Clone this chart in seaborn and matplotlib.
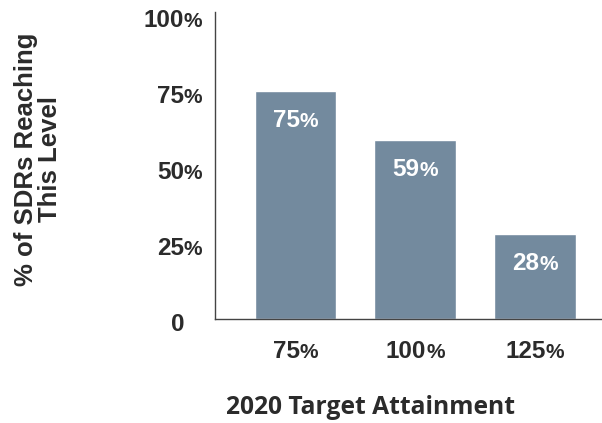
import matplotlib
matplotlib.use("Agg")
import matplotlib.pyplot as plt
from matplotlib.transforms import offset_copy
import seaborn as sns
import pandas as pd

# Data
attainment_levels = ["75%", "100%", "125%"]
share_reaching = [75, 59, 28]
y_ticks = [0, 25, 50, 75, 100]
y_tick_labels = ["0", "25%", "50%", "75%", "100%"]

df = pd.DataFrame({"level": attainment_levels, "share": share_reaching})

sns.set_theme(style="white")
plt.rcParams["font.family"] = ["Liberation Sans", "DejaVu Sans"]

bar_color = "#738A9E"
text_color = "#2b2b2b"
BIG, SMALL = 17.5, 15

fig = plt.figure(figsize=(6.02, 4.23), dpi=100)
ax = fig.add_axes([215 / 602, 104 / 423, 387 / 602, 307 / 423])

sns.barplot(data=df, x="level", y="share", color=bar_color, width=0.68,
            saturation=1, ax=ax)

ax.set_xlim(-0.67, 2.56)
ax.set_ylim(0, 101)
ax.set_yticks(y_ticks)
ax.set_yticklabels([])
ax.set_xticks(range(len(attainment_levels)))
ax.set_xticklabels([])
ax.tick_params(length=0)
ax.set_ylabel("")
ax.set_xlabel("")

for side in ["top", "right"]:
    ax.spines[side].set_visible(False)
for side in ["left", "bottom"]:
    ax.spines[side].set_color("#444444")
    ax.spines[side].set_linewidth(1.0)

renderer = fig.canvas.get_renderer()


def text_width(s, size):
    t = fig.text(0, 0, s, fontsize=size, fontweight="bold")
    w = t.get_window_extent(renderer).width
    t.remove()
    return w


def pct_label(x, y, label, trans, align, dx, dy, color):
    """Draw a number with a smaller trailing percent sign."""
    num = label.rstrip("%")
    has_pct = label.endswith("%")
    w1 = text_width(num, BIG)
    w2 = text_width("%", SMALL) if has_pct else 0.0
    if align == "center":
        start = -(w1 + w2) / 2
    else:  # digits right-aligned on the anchor
        start = -w1
    t1 = offset_copy(trans, fig=fig, x=start + dx, y=dy, units="dots")
    ax.text(x, y, num, transform=t1, ha="left", va="baseline",
            fontsize=BIG, fontweight="bold", color=color, clip_on=False)
    if has_pct:
        t2 = offset_copy(trans, fig=fig, x=start + w1 + dx, y=dy, units="dots")
        ax.text(x, y, "%", transform=t2, ha="left", va="baseline",
                fontsize=SMALL, fontweight="bold", color=color, clip_on=False)


# y tick labels
for v, lab in zip(y_ticks, y_tick_labels):
    pct_label(0, v, lab, ax.get_yaxis_transform(), "right", -31, -11.5, text_color)

# x tick labels
for i, lab in enumerate(attainment_levels):
    pct_label(i, 0, lab, ax.transData, "center", 0, -39, text_color)

# value labels inside bars
for i, v in enumerate(share_reaching):
    pct_label(i, v, f"{v}%", ax.transData, "center", 0, -36, "white")

fig.text(38 / 602, 1 - 159 / 423, "% of SDRs Reaching\nThis Level", rotation=90,
         ha="center", va="center", fontsize=18.5, fontweight="bold",
         color=text_color, linespacing=1.0)
fig.text(370 / 602, 1 - 407 / 423, "2020 Target Attainment", ha="center",
         va="center", fontsize=17.7, fontweight="bold", color=text_color,
         family=["Open Sans", "DejaVu Sans"])

fig.savefig("out.png", dpi=100, facecolor="white")
